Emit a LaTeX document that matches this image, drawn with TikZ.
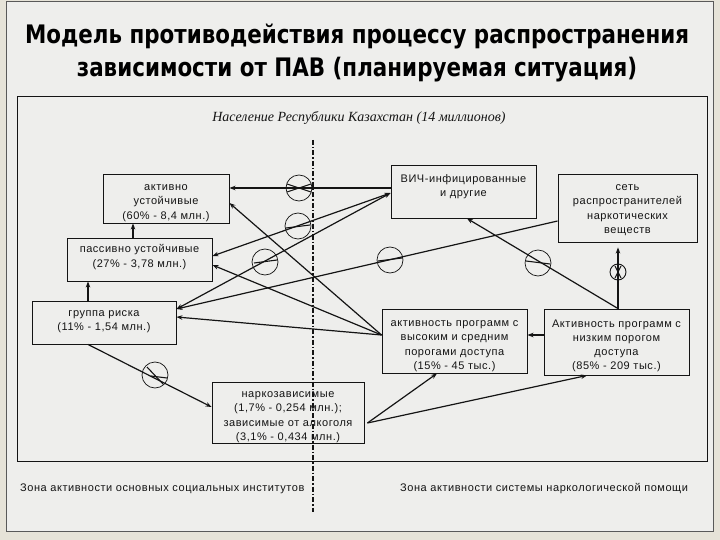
\documentclass[tikz,border=0pt]{standalone}
\usepackage{fontspec}
\setmainfont{Liberation Sans}[LetterSpace=5]
\newfontfamily\titlefont[FakeStretch=0.84]{DejaVu Sans}
\newfontfamily\subfont{Liberation Serif}
\usetikzlibrary{arrows.meta,calc}
\definecolor{bgout}{RGB}{230,227,216}
\definecolor{bgin}{RGB}{238,238,236}
\definecolor{ink}{RGB}{20,20,20}
\tikzset{
  box/.style={draw=ink, line width=0.9pt, inner sep=0pt},
  txt/.style={align=center, inner sep=0pt, text=ink, anchor=north,
    font=\fontsize{11}{14.2}\selectfont},
  conn/.style={draw=ink, line width=1.2pt, -{Stealth[length=6pt,width=4.5pt]}},
  dconn/.style={draw=ink, line width=1.2pt, {Stealth[length=6pt,width=4.5pt]}-{Stealth[length=6pt,width=4.5pt]}},
  stopc/.style={circle, draw=ink, line width=0.7pt, minimum size=26pt, inner sep=0pt},
  stops/.style={circle, draw=ink, line width=0.9pt, minimum size=16pt, inner sep=0pt},
  bar/.style={draw=ink, line width=1.1pt},
  zone/.style={font=\fontsize{11}{12}\selectfont, text=ink, inner sep=0pt},
}
\begin{document}
\begin{tikzpicture}[x=1pt,y=-1pt]
\useasboundingbox (0,0) rectangle (720,540);
\fill[bgout] (0,0) rectangle (720,540);
\filldraw[fill=bgin, draw=gray!70!black, line width=0.6pt] (6,1) rectangle (713,531);

% title
\node[font=\titlefont\bfseries\fontsize{25.5}{33}\selectfont, text=black, align=center] (title) at (357,53)
  {Модель противодействия процессу распространения\\зависимости от ПАВ (планируемая ситуация)};

% frame
\draw[ink, line width=1pt] (17,97) rectangle (707,461);
\node[font=\subfont\itshape\fontsize{14}{16}\selectfont, text=ink] (pop) at (359,118)
  {Население Республики Казахстан (14 миллионов)};

% dividing line
\coordinate (divtop) at (313,140);
\coordinate (divbot) at (313,512);
\draw[ink, line width=1.6pt, dash pattern=on 5pt off 2pt on 1.5pt off 2pt] (divtop) -- (divbot);

% boxes
\node[box, minimum width=126pt, minimum height=49pt] (akt) at (166,198.5) {};
\node[box, minimum width=145pt, minimum height=43pt] (pas) at (139.5,259.5) {};
\node[box, minimum width=144pt, minimum height=43pt] (grp) at (104,322.5) {};
\node[box, minimum width=152pt, minimum height=61pt] (nark) at (288,412.5) {};
\node[box, minimum width=145pt, minimum height=53pt] (vich) at (463.5,191.5) {};
\node[box, minimum width=139pt, minimum height=68pt] (set) at (627.5,208) {};
\node[box, minimum width=145pt, minimum height=64pt] (high) at (454.5,341) {};
\node[box, minimum width=145pt, minimum height=66pt] (low) at (616.5,342) {};

% box texts
\node[txt] (aktT) at ([yshift=-11pt]akt.north) {активно\\устойчивые\\(60\% - 8,4 млн.)};
\node[txt] (pasT) at ([yshift=-7pt]pas.north) {пассивно устойчивые\\(27\% - 3,78 млн.)};
\node[txt] (grpT) at ([yshift=-10pt]grp.north) {группа риска\\(11\% - 1,54 млн.)};
\node[txt] (narkT) at ([yshift=-10pt]nark.north) {наркозависимые\\(1,7\% - 0,254 млн.);\\зависимые от алкоголя\\(3,1\% - 0,434 млн.)};
\node[txt] (vichT) at ([yshift=-10pt]vich.north) {ВИЧ-инфицированные\\и другие};
\node[txt] (setT) at ([yshift=-11pt]set.north) {сеть\\распространителей\\наркотических\\веществ};
\node[txt] (highT) at ([yshift=-12pt]high.north) {активность программ с\\высоким и средним\\порогами доступа\\(15\% - 45 тыс.)};
\node[txt] (lowT) at ([yshift=-11pt]low.north) {Активность программ с\\низким порогом\\доступа\\(85\% - 209 тыс.)};

% zone labels
\node[zone, anchor=west] (zl) at (20,489) {Зона активности основных социальных институтов};
\node[zone, anchor=west] (zr) at (400,489) {Зона активности системы наркологической помощи};

% connectors
\draw[conn] ([yshift=3.5pt]vich.west) -- ([yshift=10.5pt]akt.east);
\draw[dconn] ([yshift=-1.5pt]vich.west) -- ([yshift=3.5pt]pas.east);
\draw[dconn] ([yshift=-1.5pt]vich.west) -- ([yshift=13.5pt]grp.east);
\draw[conn] ([yshift=-13pt]set.west) -- ([yshift=13.5pt]grp.east);
\draw[conn] ([yshift=6pt]high.west) -- ([yshift=-4.5pt]akt.east);
\draw[conn] ([yshift=6pt]high.west) -- ([yshift=-5.5pt]pas.east);
\draw[conn] ([yshift=6pt]high.west) -- ([yshift=5.5pt]grp.east);
\draw[conn] ([xshift=1.5pt]low.north) -- ([xshift=3.5pt]vich.south);
\draw[conn, shorten >=5pt] ([xshift=1.5pt]low.north) -- ([xshift=1.5pt]low.north |- set.south);
\draw[conn] ([yshift=7pt]low.west) -- ([yshift=6pt]high.east);
\draw[conn] ([xshift=3pt,yshift=-10.5pt]nark.east) -- ([xshift=-17.5pt]high.south);
\draw[conn] ([xshift=3pt,yshift=-10.5pt]nark.east) -- ([xshift=-29.5pt]low.south);
\draw[conn] ([xshift=-16pt]grp.south) -- ([yshift=5.5pt]nark.west);
\draw[conn] ([xshift=-6.5pt]pas.north) -- ([xshift=-6.5pt]pas.north |- akt.south);
\draw[conn] ([xshift=-16pt]grp.north) -- ([xshift=-16pt]grp.north |- pas.south);

% blocking circles
\node[stopc] (c1) at (299,188) {};
\draw[bar] ($(c1)+(-12,-4)$) -- ($(c1)+(12,4)$);
\draw[bar] ($(c1)+(-12,4)$) -- ($(c1)+(12,-4)$);
\node[stopc] (c2) at (298,226) {};
\draw[bar] ($(c2)+(-12,2)$) -- ($(c2)+(12,-1)$);
\node[stopc] (c3) at (265,262) {};
\draw[bar] ($(c3)+(-11,1)$) -- ($(c3)+(12,-2)$);
\node[stopc] (c4) at (390,260) {};
\draw[bar] ($(c4)+(-12,1)$) -- ($(c4)+(12,-2)$);
\node[stopc] (c5) at (538,263) {};
\draw[bar] ($(c5)+(-12,-2)$) -- ($(c5)+(12,1)$);
\node[stopc] (c6) at (155,375) {};
\draw[bar] ($(c6)+(-8,-8)$) -- ($(c6)+(8,9)$);
\draw[bar] ($(c6)+(-4,1)$) -- ($(c6)+(12,3)$);
\node[stops] (c7) at (618,272) {};
\draw[bar] ($(c7)+(-3,-6)$) -- ($(c7)+(3,6)$);
\draw[bar] ($(c7)+(3,-6)$) -- ($(c7)+(-3,6)$);
\end{tikzpicture}
\end{document}
